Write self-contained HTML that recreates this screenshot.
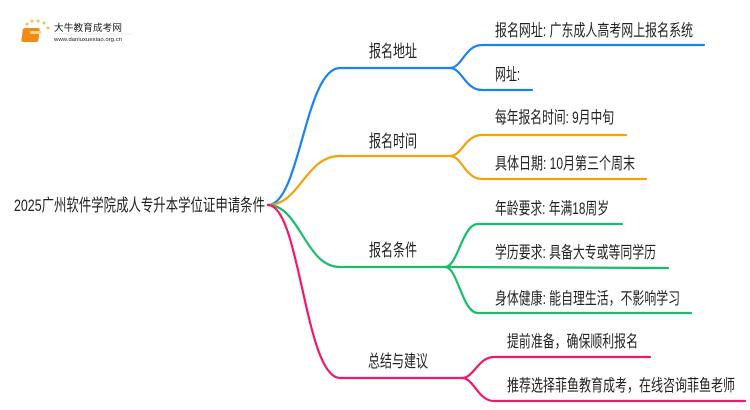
<!DOCTYPE html>
<html><head><meta charset="utf-8"><style>
html,body{margin:0;padding:0;background:#fff;width:750px;height:410px;overflow:hidden}
text{font-family:"Liberation Sans","Noto Sans CJK SC",sans-serif;fill:#222}
</style></head><body>
<svg width="750" height="410" viewBox="0 0 750 410" xmlns="http://www.w3.org/2000/svg">
<g fill="none" stroke-width="2.2" stroke-linecap="round">
<g stroke="#1a82f5">
<path d="M268,205 C300,205 305,68 340,68 L450,68"/>
<path d="M450,68 C462,68 465,45 482,45 L704,45"/>
<path d="M450,68 C462,68 465,90 482,90 L532,90"/>
</g>
<g stroke="#f2a20c">
<path d="M268,205 C300,205 305,156 340,156 L450,156"/>
<path d="M450,156 C462,156 465,135 482,135 L626,135"/>
<path d="M450,156 C462,156 465,179 482,179 L646,179"/>
</g>
<g stroke="#19be6b">
<path d="M268,205 C300,205 305,267 340,267 L445,267"/>
<path d="M445,267 C458,267 462,224 478,224 L622,224"/>
<path d="M445,267 L668,268"/>
<path d="M445,267 C458,267 462,313 478,313 L691,313"/>
</g>
<g stroke="#f0186e">
<path d="M268,205 C300,205 305,378 340,378 L462,378"/>
<path d="M462,378 C474,378 478,357 494,357 L650,357"/>
<path d="M462,378 C474,378 478,401 494,401 L745,401"/>
</g>
</g>
<g>
<circle cx="24" cy="30" r="1.5" fill="#f7c04a"/><circle cx="27" cy="24" r="1.5" fill="#f7c04a"/>
<circle cx="32" cy="21" r="1.5" fill="#f7c04a"/><circle cx="38" cy="21" r="1.5" fill="#f7c04a"/>
<circle cx="44" cy="23" r="1.5" fill="#f7c04a"/><circle cx="48" cy="28" r="1.5" fill="#f7c04a"/>
<rect x="27" y="28" width="17" height="14" rx="2" fill="#f08a18" transform="skewX(-8)"/>
<rect x="30" y="31" width="11" height="3" fill="#fcd27a"/>
<text x="54" y="31" font-size="9.5" fill="#555" textLength="68" lengthAdjust="spacingAndGlyphs">大牛教育成考网</text>
<line x1="54" y1="34" x2="132" y2="34" stroke="#ddd" stroke-width="0.6"/>
<text x="54" y="41" font-size="5" fill="#777" textLength="68" lengthAdjust="spacingAndGlyphs">www.daniuxuexiao.org.cn</text>
</g>
<text x="14" y="211" font-size="17" textLength="251" lengthAdjust="spacingAndGlyphs">2025广州软件学院成人专升本学位证申请条件</text>
<g font-size="17">
<text x="369" y="57" textLength="48" lengthAdjust="spacingAndGlyphs">报名地址</text>
<text x="369" y="147" textLength="48" lengthAdjust="spacingAndGlyphs">报名时间</text>
<text x="369" y="256" textLength="48" lengthAdjust="spacingAndGlyphs">报名条件</text>
<text x="368" y="367" textLength="60" lengthAdjust="spacingAndGlyphs">总结与建议</text>
</g>
<g font-size="16.5">
<text x="495" y="36" textLength="198" lengthAdjust="spacingAndGlyphs">报名网址: 广东成人高考网上报名系统</text>
<text x="495" y="80" textLength="25" lengthAdjust="spacingAndGlyphs">网址:</text>
<text x="495" y="123" textLength="119" lengthAdjust="spacingAndGlyphs">每年报名时间: 9月中旬</text>
<text x="495" y="169" textLength="140" lengthAdjust="spacingAndGlyphs">具体日期: 10月第三个周末</text>
<text x="495" y="214" textLength="114" lengthAdjust="spacingAndGlyphs">年龄要求: 年满18周岁</text>
<text x="495" y="258" textLength="161" lengthAdjust="spacingAndGlyphs">学历要求: 具备大专或等同学历</text>
<text x="495" y="304" textLength="185" lengthAdjust="spacingAndGlyphs">身体健康: 能自理生活，不影响学习</text>
<text x="507" y="347" textLength="131" lengthAdjust="spacingAndGlyphs">提前准备，确保顺利报名</text>
<text x="507" y="391" textLength="228" lengthAdjust="spacingAndGlyphs">推荐选择菲鱼教育成考，在线咨询菲鱼老师</text>
</g>
</svg>
</body></html>
